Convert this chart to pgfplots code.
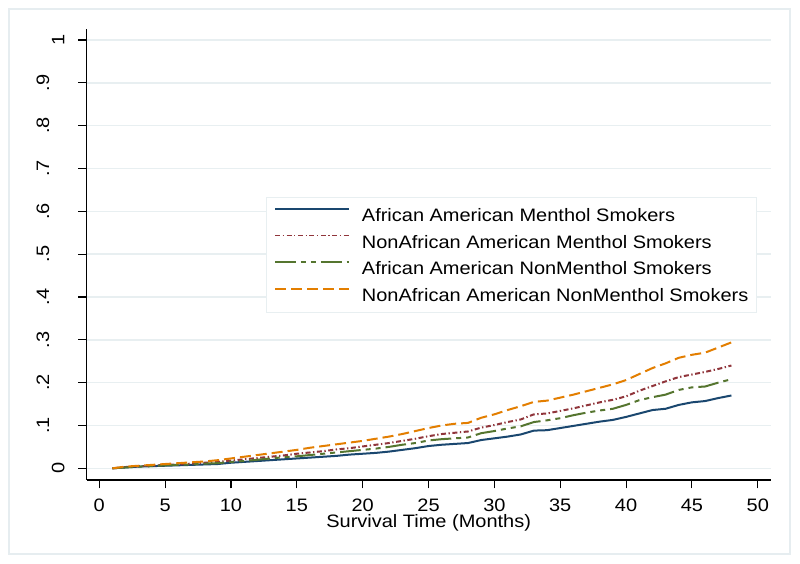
\documentclass[border=0pt]{standalone}
\usepackage{fontspec}
\setmainfont{Liberation Sans}[FakeStretch=1.11]
\usepackage{pgfplots}
\usepackage{pgfplotstable}
\pgfplotsset{compat=1.18}
\definecolor{stnavy}{RGB}{26,71,111}
\definecolor{stmaroon}{RGB}{144,53,59}
\definecolor{stgreen}{RGB}{85,117,47}
\definecolor{storange}{RGB}{227,126,0}
\definecolor{gridcol}{RGB}{232,239,241}
\definecolor{bordercol}{RGB}{230,237,240}
\newcommand{\fs}{\fontsize{13.5pt}{16pt}\selectfont}

\pgfplotstableread{
m aam naam aan naan
1 0.000 0.000 0.000 0.000
2 0.002 0.003 0.002 0.004
3 0.004 0.005 0.004 0.006
4 0.005 0.006 0.005 0.008
5 0.006 0.008 0.007 0.010
6 0.007 0.009 0.008 0.012
7 0.008 0.011 0.009 0.014
8 0.009 0.013 0.011 0.016
9 0.010 0.015 0.012 0.019
10 0.013 0.018 0.015 0.023
11 0.015 0.021 0.017 0.027
12 0.017 0.024 0.020 0.031
13 0.019 0.027 0.023 0.035
14 0.021 0.030 0.026 0.039
15 0.023 0.034 0.028 0.043
16 0.025 0.037 0.031 0.048
17 0.027 0.040 0.034 0.052
18 0.029 0.044 0.037 0.056
19 0.032 0.047 0.040 0.060
20 0.034 0.051 0.043 0.064
21 0.036 0.055 0.046 0.069
22 0.039 0.059 0.050 0.074
23 0.043 0.064 0.055 0.080
24 0.047 0.069 0.059 0.087
25 0.052 0.075 0.065 0.094
26 0.055 0.080 0.068 0.100
27 0.057 0.083 0.070 0.104
28 0.059 0.086 0.072 0.106
29 0.066 0.095 0.082 0.118
30 0.070 0.101 0.087 0.126
31 0.074 0.108 0.093 0.136
32 0.079 0.114 0.098 0.145
33 0.088 0.126 0.108 0.155
34 0.089 0.128 0.112 0.158
35 0.094 0.134 0.117 0.165
36 0.099 0.140 0.124 0.172
37 0.104 0.147 0.130 0.180
38 0.109 0.154 0.135 0.188
39 0.113 0.160 0.139 0.196
40 0.120 0.168 0.148 0.206
41 0.128 0.181 0.159 0.220
42 0.136 0.192 0.166 0.234
43 0.139 0.203 0.172 0.245
44 0.148 0.213 0.183 0.258
45 0.154 0.219 0.189 0.265
46 0.157 0.225 0.191 0.270
47 0.164 0.232 0.200 0.282
48 0.170 0.240 0.208 0.294
}\km

\begin{document}
\begin{tikzpicture}
\path[use as bounding box] (0,0) rectangle (600pt,423pt);
\fill[white] (0,0) rectangle (600pt,423pt);
\draw[bordercol, line width=0.8pt] (6.75pt,7.5pt) rectangle (592.5pt,416.25pt);
\begin{axis}[
  at={(65pt,63pt)}, anchor=south west,
  scale only axis, width=513pt, height=338.25pt,
  xmin=-0.957, xmax=50.98, ymin=-0.0273, ymax=1.0257,
  axis lines*=left,
  axis line style={black, line width=0.9pt},
  tick align=outside, major tick length=6.25pt,
  tick style={black, line width=0.8pt},
  xtick={0,5,10,15,20,25,30,35,40,45,50},
  ytick={0,0.1,0.2,0.3,0.4,0.5,0.6,0.7,0.8,0.9,1},
  yticklabels={0,\raisebox{11.5pt}{.1},\raisebox{11.5pt}{.2},\raisebox{11.5pt}{.3},\raisebox{11.5pt}{.4},\raisebox{11.5pt}{.5},\raisebox{11.5pt}{.6},\raisebox{11.5pt}{.7},\raisebox{11.5pt}{.8},\raisebox{11.5pt}{.9},1},
  ymajorgrids, grid style={gridcol, line width=1.1pt},
  /pgf/number format/assume math mode=true,
  tick label style={font=\fs},
  xticklabel style={anchor=base, yshift=-17.5pt},
  yticklabel style={xshift=-10.4pt, rotate=90, anchor=base},
  xlabel={Survival Time (Months)},
  xlabel style={font=\fs, at={(axis description cs:0.5,-0.1058)}, anchor=base},
  legend style={at={(axis description cs:0.2621,0.6268)}, anchor=north west,
    draw=gridcol, line width=0.8pt, fill=white, inner xsep=6pt, inner ysep=3pt,
    font=\fs, row sep=0pt,
    nodes={inner sep=0pt, text height=14.8pt, text depth=5.2pt, anchor=west},
    /tikz/every odd column/.append style={column sep=9pt}},
  legend cell align=left,
  legend image code/.code={\draw[#1, line width=1.1pt] (0pt,4.8pt) -- (55.5pt,4.8pt);},
]
\addplot[stnavy, line width=1.5pt] table[x=m, y=aam] {\km};
\addlegendentry{African American Menthol Smokers}
\addplot[stmaroon, line width=1.5pt, dash pattern=on 3.75pt off 1.9pt on 1pt off 1.9pt] table[x=m, y=naam] {\km};
\addlegendentry{NonAfrican American Menthol Smokers}
\addplot[stgreen, line width=1.5pt, dash pattern=on 15.5pt off 3.75pt on 3.75pt off 3.75pt on 3.75pt off 3.75pt] table[x=m, y=aan] {\km};
\addlegendentry{African American NonMenthol Smokers}
\addplot[storange, line width=1.5pt, dash pattern=on 8.25pt off 3.75pt] table[x=m, y=naan] {\km};
\addlegendentry{NonAfrican American NonMenthol Smokers\hspace{6.75pt}}
\end{axis}
\end{tikzpicture}
\end{document}
